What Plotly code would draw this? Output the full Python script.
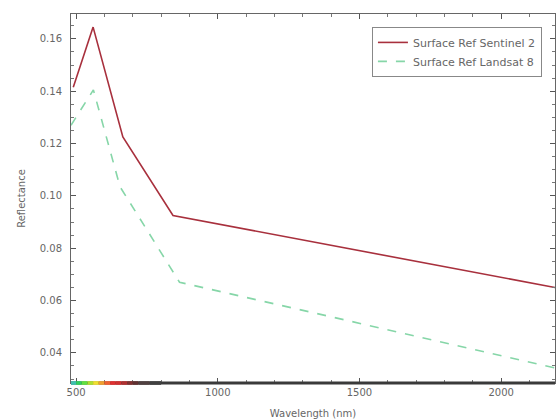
import plotly.graph_objects as go

# Sentinel-2 surface reflectance
s2_wavelength = [490, 560, 665, 842, 2190]
s2_reflectance = [0.1415, 0.1645, 0.1225, 0.0925, 0.0650]

# Landsat 8 surface reflectance
l8_wavelength = [482, 561, 655, 865, 2201]
l8_reflectance = [0.1270, 0.1405, 0.1035, 0.0670, 0.0340]

series_names = ["Surface Ref Sentinel 2", "Surface Ref Landsat 8"]

# decorative visible-spectrum strip along the x axis
spectrum_edges = [482, 500, 520, 540, 560, 580, 600, 620, 640, 660, 680, 700, 720, 760, 800]
spectrum_colors = ["#40c0b0", "#30d060", "#60e040", "#b0e030", "#f0e030", "#f0a030",
                   "#f06030", "#e03030", "#d03030", "#b03030", "#803030", "#603030",
                   "#504040", "#404040"]

fig = go.Figure()
fig.add_trace(go.Scatter(x=s2_wavelength, y=s2_reflectance, mode="lines",
                         name=series_names[0],
                         line=dict(color="#a8303d", width=1.6)))
fig.add_trace(go.Scatter(x=l8_wavelength, y=l8_reflectance, mode="lines",
                         name=series_names[1],
                         line=dict(color="#86d6a8", width=1.6, dash="dash")))

# thick dark baseline along the x axis
fig.add_shape(type="line", xref="paper", yref="paper", x0=0, x1=1, y0=0, y1=0,
              line=dict(color="#3a3a3a", width=3), layer="above")
for i, c in enumerate(spectrum_colors):
    fig.add_shape(type="rect", xref="x", yref="paper",
                  x0=spectrum_edges[i], x1=spectrum_edges[i + 1], y0=-0.005, y1=0.005,
                  fillcolor=c, line=dict(width=0), layer="above")

fig.update_layout(
    width=560, height=419,
    margin=dict(l=71, r=5, t=14, b=36),
    plot_bgcolor="white", paper_bgcolor="white",
    font=dict(family="DejaVu Sans", size=10, color="#666666"),
    showlegend=True,
    legend=dict(x=0.973, y=0.965, xanchor="right", yanchor="top",
                bordercolor="#888888", borderwidth=1, bgcolor="white",
                itemwidth=30, tracegroupgap=0,
                font=dict(size=11, color="#666666")),
)
fig.update_xaxes(range=[482, 2190], tickvals=[500, 1000, 1500, 2000], automargin=False,
                 ticks="inside", ticklen=5, tickcolor="#555555",
                 showline=True, linecolor="#666666", linewidth=1, mirror="ticks",
                 showgrid=False, zeroline=False,
                 minor=dict(ticks="inside", ticklen=3, dtick=100, tickcolor="#777777"),
                 title=dict(text="Wavelength (nm)", font=dict(size=10, color="#666666"), standoff=12))
fig.update_yaxes(range=[0.0285, 0.1695], tickvals=[0.04, 0.06, 0.08, 0.10, 0.12, 0.14, 0.16],
                 ticktext=["0.04", "0.06", "0.08", "0.10", "0.12", "0.14", "0.16"],
                 automargin=False, ticklabelstandoff=6,
                 ticks="inside", ticklen=5, tickcolor="#555555",
                 showline=True, linecolor="#666666", linewidth=1, mirror="ticks",
                 showgrid=False, zeroline=False,
                 minor=dict(ticks="inside", ticklen=3, dtick=0.005, tickcolor="#777777"),
                 title=dict(text="Reflectance", font=dict(size=10, color="#666666"), standoff=12))

fig.write_html("out.html", config={"displayModeBar": False},
               post_script="document.body.style.margin='0';document.body.style.padding='0';")
